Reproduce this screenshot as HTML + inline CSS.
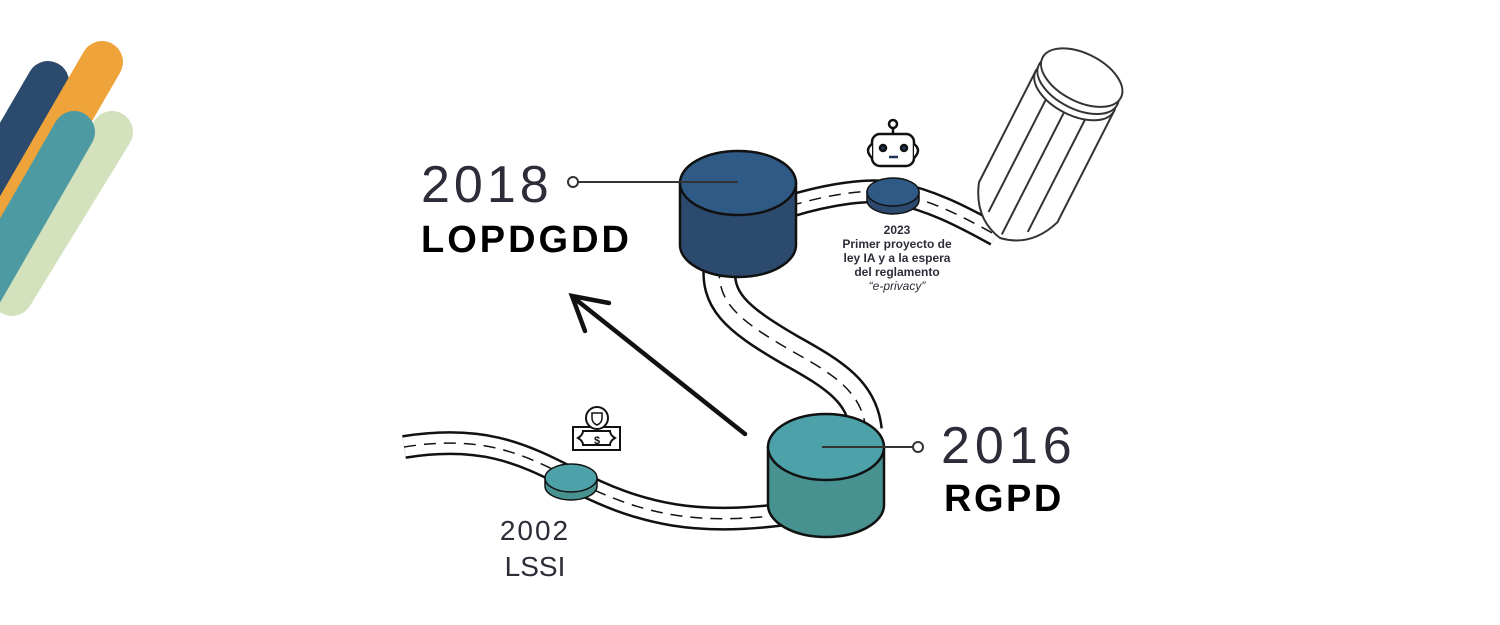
<!DOCTYPE html>
<html><head><meta charset="utf-8"><style>
html,body{margin:0;padding:0;background:#fff;}
svg{display:block}
text{font-family:"Liberation Sans",sans-serif;}
</style></head><body>
<svg width="1500" height="625" viewBox="0 0 1500 625" xmlns="http://www.w3.org/2000/svg">
<!-- stripes -->
<g stroke-linecap="round" stroke-width="42" fill="none">
<line x1="48" y1="82" x2="-70" y2="285" stroke="#2b4a6e"/>
<line x1="102" y1="62" x2="-30" y2="290" stroke="#eea43a"/>
<line x1="112" y1="132" x2="12" y2="295" stroke="#d3e2bd"/>
<line x1="74" y1="132" x2="-40" y2="330" stroke="#4d9aa2"/>
</g>
<!-- roads -->
<g fill="none">
<path d="M404,447 C480,435 520,452 570,478 C640,515 700,528 800,512" stroke="#111" stroke-width="24"/>
<path d="M404,447 C480,435 520,452 570,478 C640,515 700,528 800,512" stroke="#fff" stroke-width="19"/>
<path d="M404,447 C480,435 520,452 570,478 C640,515 700,528 800,512" stroke="#111" stroke-width="1.5" stroke-dasharray="12,8"/>
<path d="M866,430 C862,392 835,375 790,350 C735,318 715,300 720,262" stroke="#111" stroke-width="34"/>
<path d="M866,430 C862,392 835,375 790,350 C735,318 715,300 720,262" stroke="#fff" stroke-width="29"/>
<path d="M866,430 C862,392 835,375 790,350 C735,318 715,300 720,262" stroke="#111" stroke-width="1.5" stroke-dasharray="12,8"/>
<path d="M790,206 C830,194 870,188 895,193 C930,200 960,215 996,235" stroke="#111" stroke-width="24"/>
<path d="M790,206 C830,194 870,188 895,193 C930,200 960,215 996,235" stroke="#fff" stroke-width="19"/>
<path d="M790,206 C830,194 870,188 895,193 C930,200 960,215 996,235" stroke="#111" stroke-width="1.5" stroke-dasharray="12,8"/>
</g>
<!-- pencil -->
<g transform="translate(1000,238) rotate(27)" fill="#fff" stroke="#333" stroke-width="2">
<path d="M-44,-40 L-44,-165 L44,-165 L44,-40 Q32,-6 0,0 Q-32,-6 -44,-40 Z"/>
<line x1="-22" y1="-18" x2="-22" y2="-160"/>
<line x1="0" y1="-4" x2="0" y2="-160"/>
<line x1="22" y1="-18" x2="22" y2="-160"/>
<ellipse cx="0" cy="-165" rx="44" ry="24"/>
<ellipse cx="0" cy="-172" rx="44" ry="24"/>
<ellipse cx="0" cy="-180" rx="44" ry="24"/>
</g>
<!-- 2018 cylinder -->
<g stroke="#111" stroke-width="2.5">
<path d="M680,183 L680,245 A58,32 0 0 0 796,245 L796,183 Z" fill="#2b4a6e"/>
<ellipse cx="738" cy="183" rx="58" ry="32" fill="#2f5a85"/>
</g>
<!-- 2016 cylinder -->
<g stroke="#111" stroke-width="2.5">
<path d="M768,447 L768,505 A58,32 0 0 0 884,505 L884,447 Z" fill="#479191"/>
<ellipse cx="826" cy="447" rx="58" ry="33" fill="#4da2a9"/>
</g>
<!-- small discs -->
<g stroke="#111" stroke-width="1.5">
<path d="M867,192 L867,200 A26,14 0 0 0 919,200 L919,192 Z" fill="#2b4a6e"/>
<ellipse cx="893" cy="192" rx="26" ry="14" fill="#2f5a85"/>
<path d="M545,478 L545,486 A26,14 0 0 0 597,486 L597,478 Z" fill="#479191"/>
<ellipse cx="571" cy="478" rx="26" ry="14" fill="#4da2a9"/>
</g>
<!-- leaders -->
<g stroke="#333" stroke-width="2" fill="#fff">
<line x1="578" y1="182" x2="738" y2="182"/>
<circle cx="573" cy="182" r="5"/>
<line x1="822" y1="447" x2="913" y2="447"/>
<circle cx="918" cy="447" r="5"/>
</g>
<!-- arrow -->
<g stroke="#111" stroke-width="4.5" fill="none" stroke-linecap="round">
<line x1="745" y1="434" x2="574" y2="298"/>
<polyline points="609,303 572,296 585,331"/>
</g>
<!-- robot -->
<g stroke="#111" stroke-width="2.5" fill="#fff">
<line x1="893" y1="127" x2="893" y2="134"/>
<circle cx="893" cy="124" r="4"/>
<rect x="872" y="134" width="42" height="32" rx="8"/>
<path d="M872,144 q-8,6 0,14 M914,144 q8,6 0,14"/>
<circle cx="883" cy="148" r="3" fill="#1d3557"/>
<circle cx="904" cy="148" r="3" fill="#1d3557"/>
<line x1="889" y1="157" x2="898" y2="157" stroke="#1d3557"/>
</g>
<!-- money -->
<g stroke="#111" stroke-width="2" fill="#fff">
<rect x="573" y="427" width="47" height="23"/>
<path d="M583,431 h27 q0,4 5,7 q-5,3 -5,7 h-27 q0,-4 -5,-7 q5,-3 5,-7 z"/>
<circle cx="597" cy="418" r="11"/>
<path d="M592,413 h10 v5 q0,5 -5,7 q-5,-2 -5,-7 z" stroke-width="1.5"/>
</g>
<text x="597" y="444" font-size="11" font-weight="bold" text-anchor="middle" fill="#111">$</text>
<!-- labels -->
<text x="421" y="202" font-size="52" fill="#2d2d3a" letter-spacing="4">2018</text>
<text x="421" y="252" font-size="38" font-weight="bold" fill="#000" letter-spacing="3">LOPDGDD</text>
<text x="941" y="463" font-size="52" fill="#2d2d3a" letter-spacing="5">2016</text>
<text x="944" y="511" font-size="38" font-weight="bold" fill="#000" letter-spacing="2.5">RGPD</text>
<text x="535" y="540" font-size="28" fill="#2d2d3a" text-anchor="middle" letter-spacing="2">2002</text>
<text x="535" y="576" font-size="28" fill="#2d2d3a" text-anchor="middle">LSSI</text>
<g font-size="12" font-weight="bold" fill="#2d2d3a" text-anchor="middle">
<text x="897" y="234">2023</text>
<text x="897" y="248">Primer proyecto de</text>
<text x="897" y="262">ley IA y a la espera</text>
<text x="897" y="276">del reglamento</text>
<text x="897" y="290" font-weight="normal" font-style="italic">“e-privacy”</text>
</g>
</svg>
</body></html>
